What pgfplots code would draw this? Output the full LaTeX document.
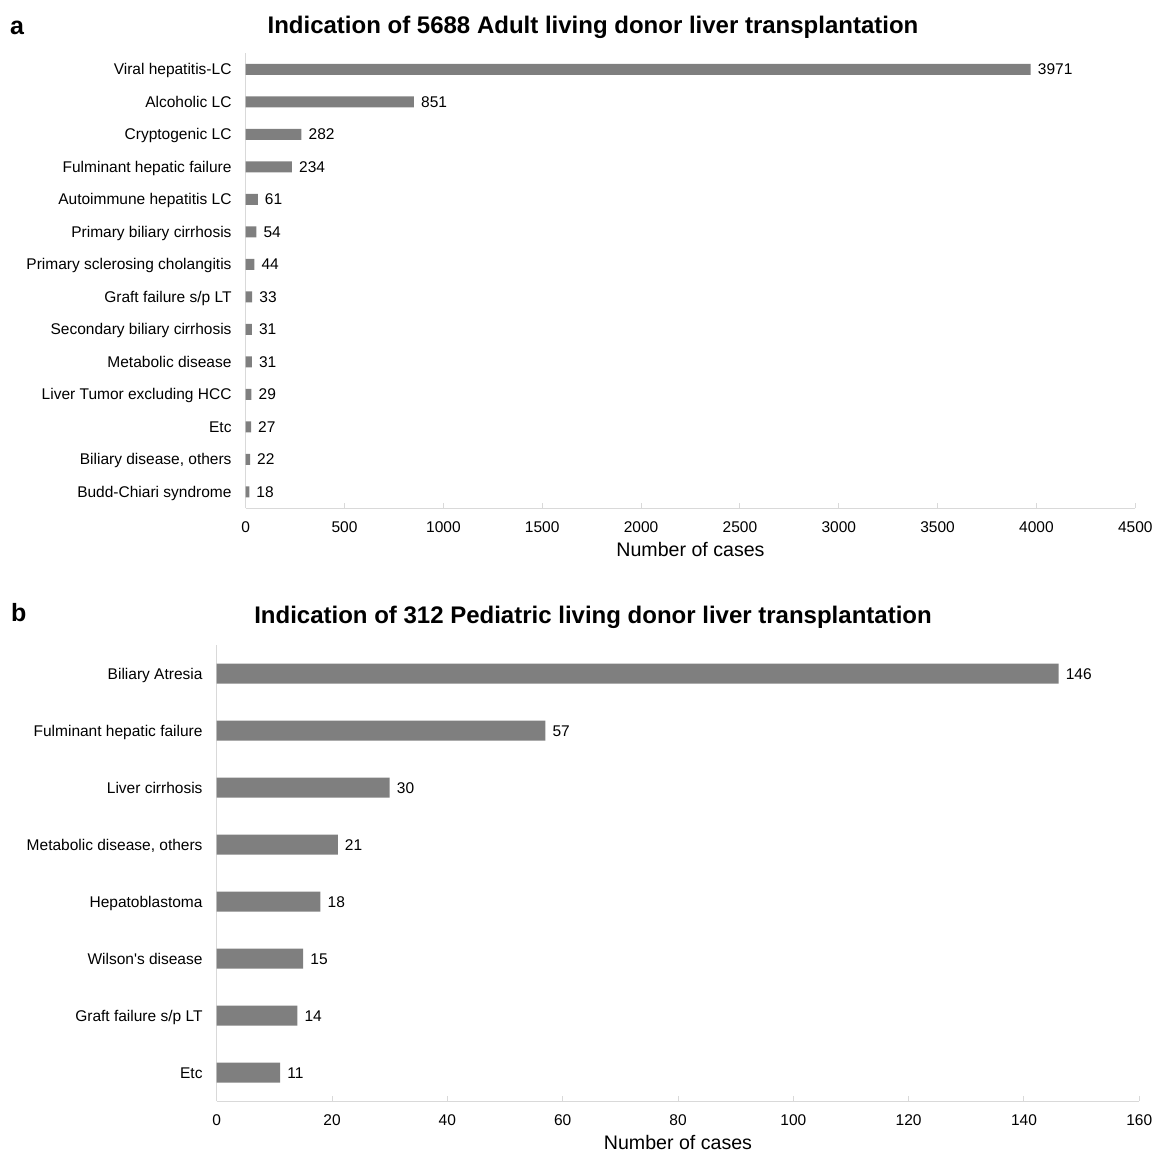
\documentclass[border=0pt]{standalone}
\usepackage{pgfplots}
\pgfplotsset{compat=1.18}
\usepackage{fontspec}
\setmainfont{Liberation Sans}
\definecolor{barg}{HTML}{7F7F7F}
\definecolor{axg}{HTML}{D9D9D9}
\newcommand{\lblfont}{\fontsize{15.5}{18}\selectfont}
\pgfplotsset{
  mystyle/.style={
    scale only axis, xbar, bar shift=0pt,
    axis x line*=bottom, axis y line*=left,
    axis line style={axg, line width=1pt},
    xtick style={axg, line width=1pt}, major tick length=5pt, tick align=inside,
    ytick style={draw=none},
    /pgf/number format/assume math mode=true,
    /pgf/number format/1000 sep={},
    scaled x ticks=false,
    tick label style={font=\lblfont, text=black},
    xticklabel style={anchor=base, inner sep=0pt, yshift=-24.3pt},
    yticklabel style={anchor=base east, inner sep=0pt, xshift=-14pt, yshift=-5.5pt},
    point meta=x,
    nodes near coords,
    nodes near coords style={anchor=base west, inner sep=0pt, xshift=7pt, yshift=-5.5pt, font=\lblfont, text=black},
    xlabel style={at={(axis description cs:0.5,0)}, anchor=base, yshift=-48pt, font=\fontsize{19.6}{23}\selectfont},
    xlabel={Number of cases},
    clip=false,
  }
}
\begin{document}
\begin{tikzpicture}
\useasboundingbox (0,0) rectangle (1153pt,-1151pt);
\node[anchor=base west, inner sep=0pt, font=\bfseries\fontsize{25}{29}\selectfont] at (10pt,-34.3pt) {a};
\node[anchor=base, inner sep=0pt, font=\bfseries\fontsize{24}{28}\selectfont] at (593pt,-33.3pt) {Indication of 5688 Adult living donor liver transplantation};
\node[anchor=base west, inner sep=0pt, font=\bfseries\fontsize{25}{29}\selectfont] at (11pt,-621pt) {b};
\node[anchor=base, inner sep=0pt, font=\bfseries\fontsize{24}{28}\selectfont] at (593pt,-623.3pt) {Indication of 312 Pediatric living donor liver transplantation};

\begin{axis}[mystyle,
  at={(245.7pt,-508pt)}, anchor=south west,
  width=889.6pt, height=455pt,
  xmin=0, xmax=4500, xtick={0,500,...,4500},
  ymin=-0.5, ymax=13.5, ytick={0,...,13},
  yticklabels={Budd-Chiari syndrome, {Biliary disease, others}, Etc, Liver Tumor excluding HCC, Metabolic disease, Secondary biliary cirrhosis, Graft failure s/p LT, Primary sclerosing cholangitis, Primary biliary cirrhosis, Autoimmune hepatitis LC, Fulminant hepatic failure\hspace{5pt}, Cryptogenic LC, Alcoholic LC, Viral hepatitis-LC},
  bar width=11pt]
\addplot[fill=barg, draw=none] coordinates {
(3971,13) (851,12) (282,11) (234,10) (61,9) (54,8) (44,7) (33,6) (31,5) (31,4) (29,3) (27,2) (22,1) (18,0)};
\end{axis}

\begin{axis}[mystyle,
  at={(216.7pt,-1101pt)}, anchor=south west,
  width=922.6pt, height=456pt,
  xmin=0, xmax=160, xtick={0,20,...,160},
  ymin=-0.5, ymax=7.5, ytick={0,...,7},
  yticklabels={Etc, Graft failure s/p LT, Wilson\textquotesingle s disease, Hepatoblastoma, {Metabolic disease, others}, Liver cirrhosis, Fulminant hepatic failure, Biliary Atresia},
  bar width=20pt]
\addplot[fill=barg, draw=none] coordinates {
(146,7) (57,6) (30,5) (21,4) (18,3) (15,2) (14,1) (11,0)};
\end{axis}
\end{tikzpicture}
\end{document}
